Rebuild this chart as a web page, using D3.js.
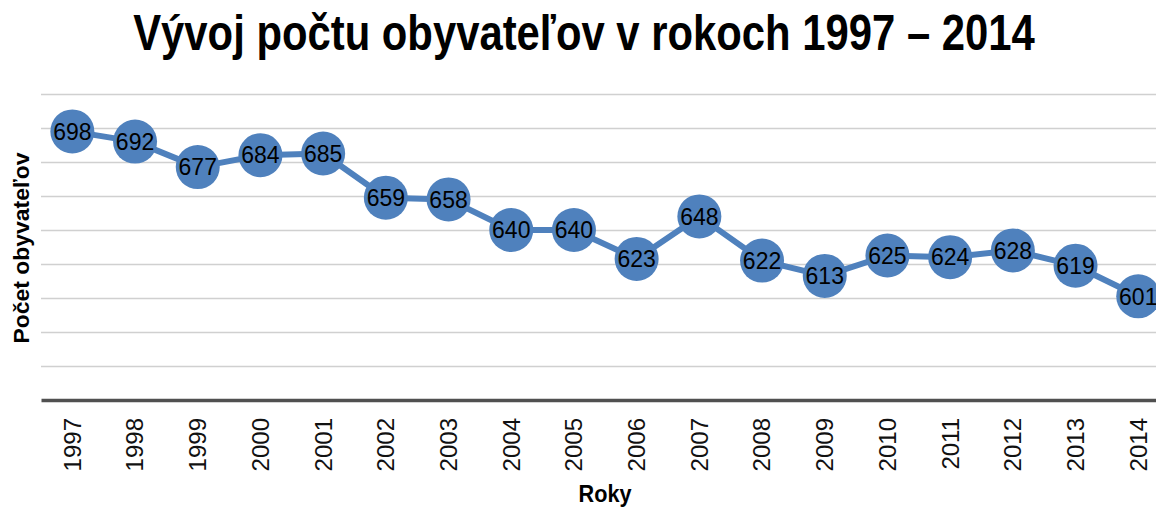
<!DOCTYPE html>
<html>
<head>
<meta charset="utf-8">
<script src="https://cdn.jsdelivr.net/npm/d3@7"></script>
<style>
  html, body { margin: 0; padding: 0; background: #fff; }
  svg { display: block; }
  text { font-family: "Liberation Sans", Arial, sans-serif; }
</style>
</head>
<body>
<svg id="chart" width="1156" height="507"></svg>
<script>
const years = ["1997","1998","1999","2000","2001","2002","2003","2004","2005","2006","2007","2008","2009","2010","2011","2012","2013","2014"];
const population = [698,692,677,684,685,659,658,640,640,623,648,622,613,625,624,628,619,601];
const yTicks = [540,560,580,600,620,640,660,680,700,720];
const titleText = "Vývoj počtu obyvateľov v rokoch 1997 – 2014";
const yLabel = "Počet obyvateľov";
const xLabel = "Roky";

const svg = d3.select("#chart");
const plotLeft = 41, plotRight = 1169.6, plotTop = 94, plotBottom = 400;

const x = d3.scaleBand().domain(years).range([plotLeft, plotRight]).padding(0);
const y = d3.scaleLinear().domain([540, 720]).range([plotBottom, plotTop]);

// gridlines
svg.append("g")
  .attr("transform", `translate(${plotLeft},0)`)
  .call(d3.axisLeft(y).tickValues(yTicks.slice(1)).tickSize(-(plotRight - plotLeft)).tickFormat(""))
  .call(g => g.select(".domain").remove())
  .call(g => g.selectAll("line").attr("stroke", "#d0d0d0").attr("stroke-width", 1.5));

// x axis
const xAxis = svg.append("g")
  .attr("transform", `translate(0,${plotBottom})`)
  .call(d3.axisBottom(x).tickSize(0).tickPadding(0));
xAxis.select(".domain").attr("stroke", "#505050").attr("stroke-width", 3.5);
xAxis.selectAll("text")
  .attr("font-size", 24)
  .attr("fill", "#111")
  .attr("font-family", "'Liberation Sans', Arial, sans-serif")
  .attr("transform", "rotate(-90)")
  .attr("text-anchor", "end")
  .attr("dy", "0.35em")
  .attr("x", -18)
  .attr("y", 0);

// line
const data = years.map((yr, i) => ({ year: yr, value: population[i] }));
const line = d3.line().x(d => x(d.year) + x.bandwidth() / 2).y(d => y(d.value));
svg.append("path")
  .datum(data)
  .attr("fill", "none")
  .attr("stroke", "#4f81bd")
  .attr("stroke-width", 6)
  .attr("stroke-linejoin", "round")
  .attr("d", line);

svg.append("g").selectAll("circle").data(data).join("circle")
  .attr("cx", d => x(d.year) + x.bandwidth() / 2)
  .attr("cy", d => y(d.value))
  .attr("r", 22)
  .attr("fill", "#4f81bd");

svg.append("g").selectAll("text").data(data).join("text")
  .attr("x", d => x(d.year) + x.bandwidth() / 2)
  .attr("y", d => y(d.value))
  .attr("dy", "0.36em")
  .attr("text-anchor", "middle")
  .attr("font-size", 23)
  .attr("fill", "#000")
  .text(d => d.value);

// helper: text squeezed horizontally to a target width via a scale transform
function squeezedText(cx, cy, rotate, size, targetWidth, str) {
  const g = svg.append("g").attr("transform", `translate(${cx},${cy}) rotate(${rotate})`);
  const t = g.append("text")
    .attr("x", 0).attr("y", 0)
    .attr("text-anchor", "middle")
    .attr("font-size", size)
    .attr("font-weight", "bold")
    .text(str);
  const w = t.node().getComputedTextLength();
  t.attr("transform", `scale(${targetWidth / w},1)`);
  return t;
}

squeezedText(584, 50, 0, 50, 902, titleText);
squeezedText(29, 248, -90, 22, 191, yLabel);
squeezedText(605, 502, 0, 23, 53, xLabel);
</script>
</body>
</html>
